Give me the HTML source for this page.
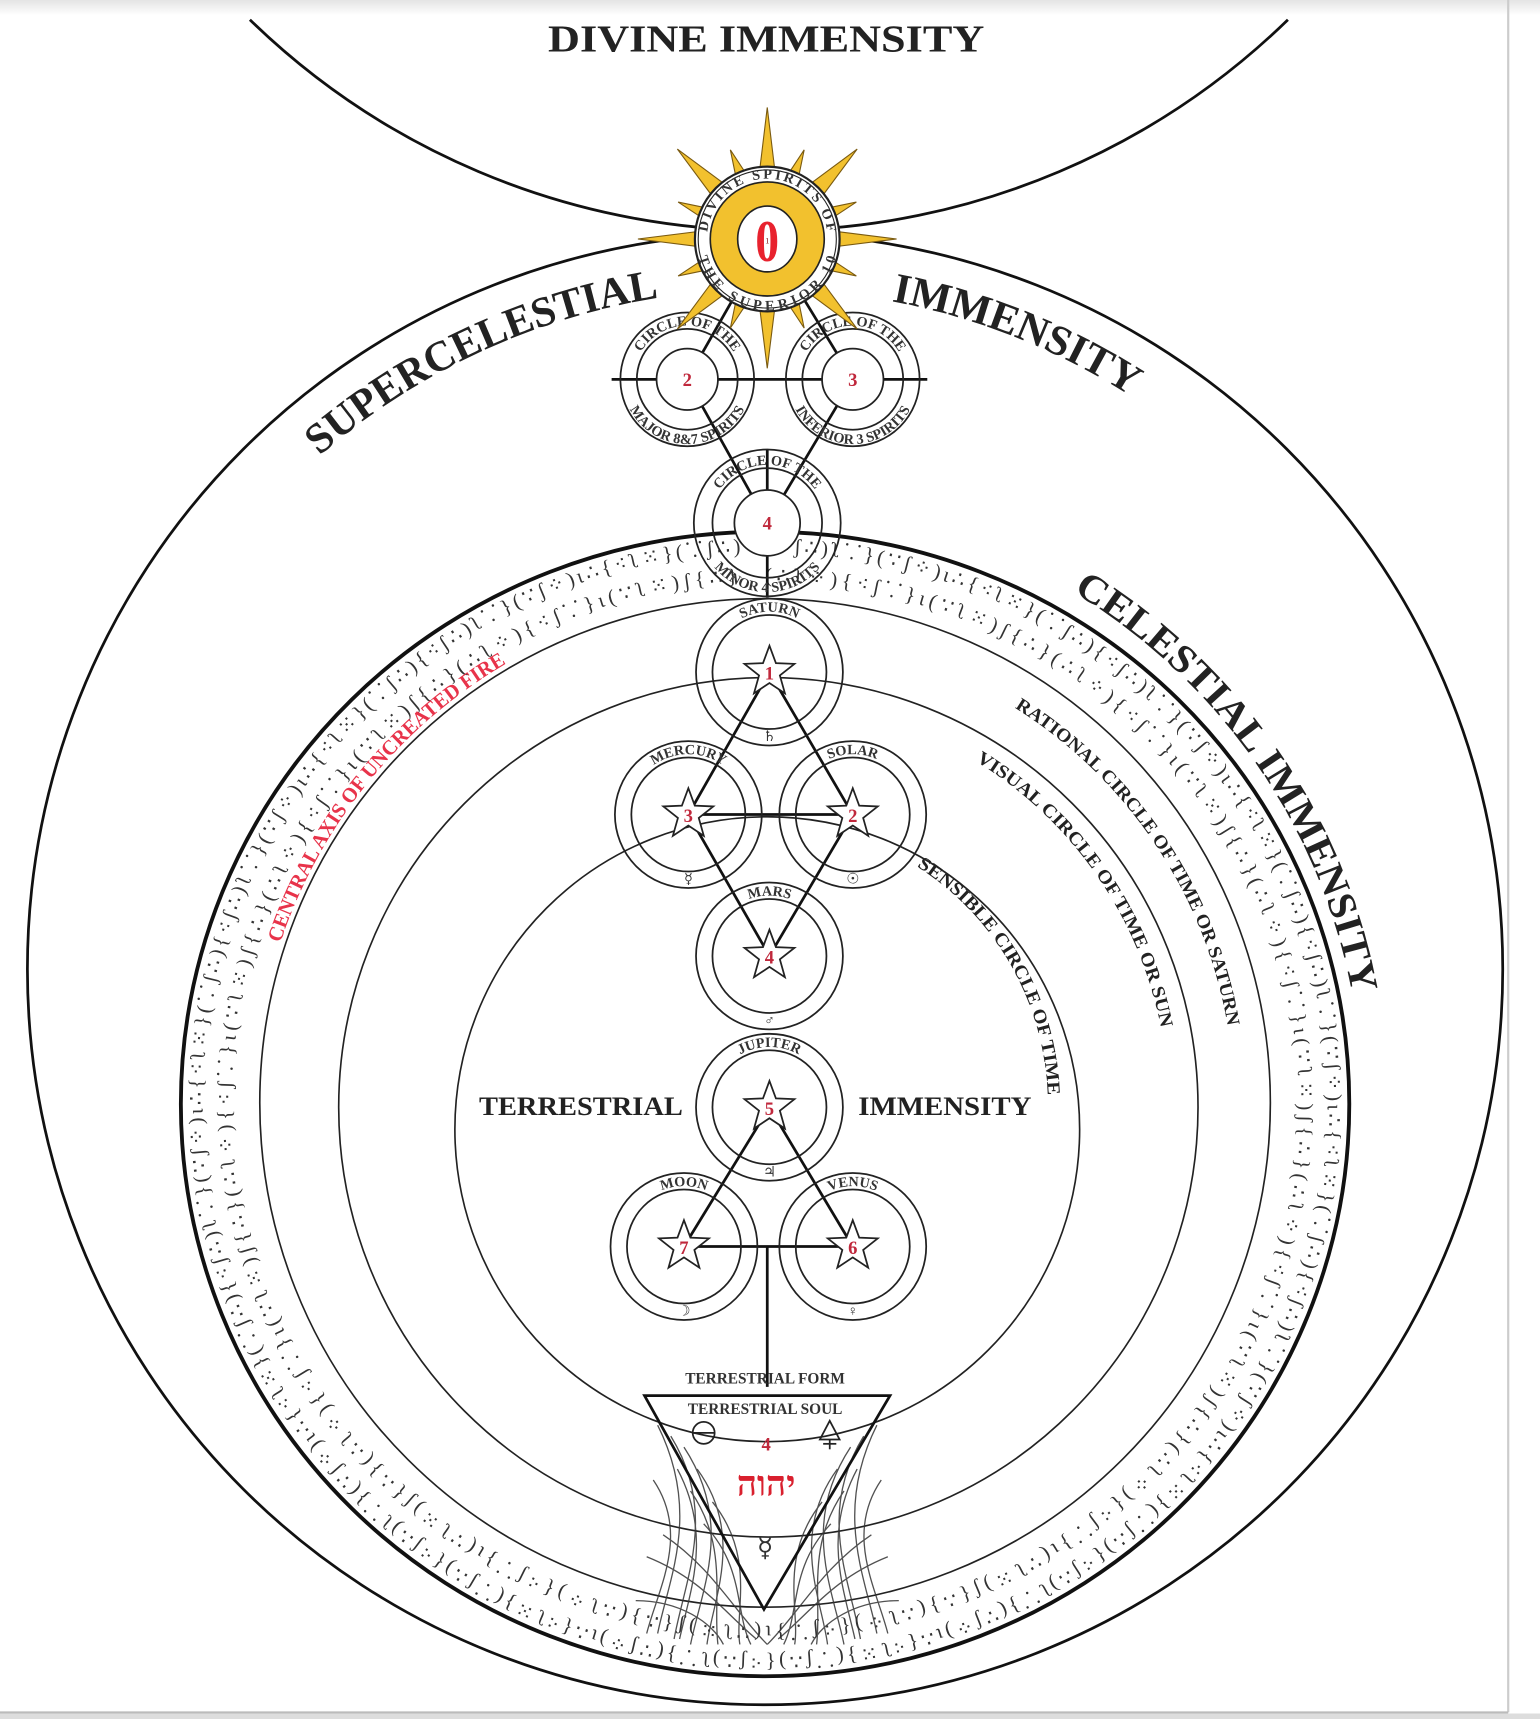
<!DOCTYPE html>
<html><head><meta charset="utf-8"><style>
html,body{margin:0;padding:0;background:#fff;}
svg{display:block;}
text{font-family:"Liberation Serif",serif;}
</style></head><body>
<svg width="1540" height="1719" viewBox="0 0 1405 1568" preserveAspectRatio="none" xmlns="http://www.w3.org/2000/svg">
<defs>
<linearGradient id="tg" x1="0" y1="0" x2="0" y2="1"><stop offset="0" stop-color="#e4e4e4"/><stop offset="1" stop-color="#fff"/></linearGradient>
<polygon id="star" points="0,-24 5.9,-8.1 22.8,-7.4 9.5,3.1 14.1,19.4 0,10 -14.1,19.4 -9.5,3.1 -22.8,-7.4 -5.9,-8.1" fill="#fff" stroke="#222" stroke-width="1.6"/>
<path id="pOuter" d="M698,264 A620,620 0 1 1 698,1504 A620,620 0 1 1 698,264"/>
<path id="pCel" d="M698,462 A545,545 0 1 1 698,1552 A545,545 0 1 1 698,462"/>
<path id="pFire" d="M698,541 A466,466 0 1 1 698,1473 A466,466 0 1 1 698,541"/>
<path id="pRat" d="M698,580 A428,428 0 1 1 698,1436 A428,428 0 1 1 698,580"/>
<path id="pVis" d="M698,640 A368,368 0 1 1 698,1376 A368,368 0 1 1 698,640"/>
<path id="pSen" d="M698,750 A258,258 0 1 1 698,1266 A258,258 0 1 1 698,750"/>
<path id="pB1" d="M698,504 A513,503 0 1 1 698,1510 A513,503 0 1 1 698,504"/>
<path id="pB2" d="M698,531 A487,476 0 1 1 698,1483 A487,476 0 1 1 698,531"/>
<path id="sunT" d="M645,218 A55,55 0 0 1 755,218"/>
<path id="sunB" d="M635,218 A65,65 0 0 0 765,218"/>
<path id="c2T" d="M578,346 A49,49 0 0 1 676,346"/>
<path id="c2B" d="M568,346 A59,59 0 0 0 686,346"/>
<path id="c3T" d="M729,346 A49,49 0 0 1 827,346"/>
<path id="c3B" d="M719,346 A59,59 0 0 0 837,346"/>
<path id="c4T" d="M647,477 A53,53 0 0 1 753,477"/>
<path id="c4B" d="M637,477 A63,63 0 0 0 763,477"/>
<path id="satT" d="M647,613 A55,55 0 0 1 757,613"/>
<path id="merT" d="M573,743 A55,55 0 0 1 683,743"/>
<path id="solT" d="M723,743 A55,55 0 0 1 833,743"/>
<path id="marT" d="M647,872 A55,55 0 0 1 757,872"/>
<path id="jupT" d="M647,1010 A55,55 0 0 1 757,1010"/>
<path id="mooT" d="M569,1137 A55,55 0 0 1 679,1137"/>
<path id="venT" d="M723,1137 A55,55 0 0 1 833,1137"/>
</defs>
<rect x="0" y="0" width="1405" height="1568" fill="#fff"/>
<rect x="0" y="0" width="1405" height="14" fill="url(#tg)"/>
<line x1="1376" y1="0" x2="1376" y2="1562" stroke="#ccc" stroke-width="2"/>
<line x1="0" y1="1562" x2="1376" y2="1562" stroke="#bbb" stroke-width="2"/>
<rect x="0" y="1563" width="1405" height="5" fill="#ddd"/>

<path d="M228,18 A679,679 0 0 0 1175,18" fill="none" stroke="#111" stroke-width="2.5"/>
<text x="699" y="47" text-anchor="middle" font-size="35" font-weight="bold" fill="#222" textLength="398" lengthAdjust="spacingAndGlyphs">DIVINE IMMENSITY</text>

<ellipse cx="698" cy="884" rx="673" ry="671" fill="none" stroke="#111" stroke-width="2.5"/>
<text font-size="39" font-weight="bold" fill="#222"><textPath href="#pOuter" startOffset="3452" textLength="346" lengthAdjust="spacingAndGlyphs">SUPERCELESTIAL</textPath></text>
<text font-size="39" font-weight="bold" fill="#222"><textPath href="#pOuter" startOffset="116" textLength="236" lengthAdjust="spacingAndGlyphs">IMMENSITY</textPath></text>

<ellipse cx="698" cy="1007" rx="533" ry="522" fill="none" stroke="#111" stroke-width="3.5"/>
<ellipse cx="698" cy="1006" rx="461" ry="460" fill="none" stroke="#222" stroke-width="1.5"/>
<text font-size="19" fill="#333"><textPath href="#pB1" textLength="3170" lengthAdjust="spacing">{⁖ʃ∴)ʅ⸪}(∵ʃ⁘)ɩ∴{⁖ʅ⁙}(⸪ʃ∴){⁖ʃ∴)ʅ⸪}(∵ʃ⁘)ɩ∴{⁖ʅ⁙}(⸪ʃ∴){⁖ʃ∴)ʅ⸪}(∵ʃ⁘)ɩ∴{⁖ʅ⁙}(⸪ʃ∴){⁖ʃ∴)ʅ⸪}(∵ʃ⁘)ɩ∴{⁖ʅ⁙}(⸪ʃ∴){⁖ʃ∴)ʅ⸪}(∵ʃ⁘)ɩ∴{⁖ʅ⁙}(⸪ʃ∴){⁖ʃ∴)ʅ⸪}(∵ʃ⁘)ɩ∴{⁖ʅ⁙}(⸪ʃ∴){⁖ʃ∴)ʅ⸪}(∵ʃ⁘)ɩ∴{⁖ʅ⁙}(⸪ʃ∴){⁖ʃ∴)ʅ⸪}(∵ʃ⁘)ɩ∴{⁖ʅ⁙}(⸪ʃ∴){⁖ʃ∴)ʅ⸪}(∵ʃ⁘)ɩ∴{⁖ʅ⁙}(⸪ʃ∴){⁖ʃ∴)ʅ⸪}(∵ʃ⁘)ɩ∴{⁖ʅ⁙}(⸪ʃ∴)</textPath></text>
<text font-size="19" fill="#333"><textPath href="#pB2" textLength="3000" lengthAdjust="spacing">(∴ʅ⁘){⁖ʃ⸪}ɩ(∵ʅ⁙)ʃ{∴}(∴ʅ⁘){⁖ʃ⸪}ɩ(∵ʅ⁙)ʃ{∴}(∴ʅ⁘){⁖ʃ⸪}ɩ(∵ʅ⁙)ʃ{∴}(∴ʅ⁘){⁖ʃ⸪}ɩ(∵ʅ⁙)ʃ{∴}(∴ʅ⁘){⁖ʃ⸪}ɩ(∵ʅ⁙)ʃ{∴}(∴ʅ⁘){⁖ʃ⸪}ɩ(∵ʅ⁙)ʃ{∴}(∴ʅ⁘){⁖ʃ⸪}ɩ(∵ʅ⁙)ʃ{∴}(∴ʅ⁘){⁖ʃ⸪}ɩ(∵ʅ⁙)ʃ{∴}(∴ʅ⁘){⁖ʃ⸪}ɩ(∵ʅ⁙)ʃ{∴}(∴ʅ⁘){⁖ʃ⸪}ɩ(∵ʅ⁙)ʃ{∴}(∴ʅ⁘){⁖ʃ⸪}ɩ(∵ʅ⁙)ʃ{∴}</textPath></text>
<text font-size="36" font-weight="bold" fill="#222"><textPath href="#pCel" startOffset="295" textLength="460" lengthAdjust="spacingAndGlyphs">CELESTIAL IMMENSITY</textPath></text>
<text font-size="19" font-weight="bold" fill="#e8334a"><textPath href="#pFire" startOffset="2345" textLength="335" lengthAdjust="spacingAndGlyphs">CENTRAL AXIS OF UNCREATED FIRE</textPath></text>

<circle cx="701" cy="1010" r="392" fill="none" stroke="#222" stroke-width="1.5"/>
<circle cx="700" cy="1030" r="285" fill="none" stroke="#222" stroke-width="1.5"/>
<text font-size="17" font-weight="bold" fill="#222"><textPath href="#pRat" startOffset="240" textLength="360" lengthAdjust="spacingAndGlyphs">RATIONAL CIRCLE OF TIME OR SATURN</textPath></text>
<text font-size="17" font-weight="bold" fill="#222"><textPath href="#pVis" startOffset="202" textLength="305" lengthAdjust="spacingAndGlyphs">VISUAL CIRCLE OF TIME OR SUN</textPath></text>
<text font-size="17" font-weight="bold" fill="#222"><textPath href="#pSen" startOffset="146" textLength="250" lengthAdjust="spacingAndGlyphs">SENSIBLE CIRCLE OF TIME</textPath></text>

<text x="530" y="1017" text-anchor="middle" font-size="24" font-weight="bold" fill="#222" textLength="186" lengthAdjust="spacingAndGlyphs">TERRESTRIAL</text>
<text x="862" y="1017" text-anchor="middle" font-size="24" font-weight="bold" fill="#222" textLength="158" lengthAdjust="spacingAndGlyphs">IMMENSITY</text>

<g stroke="#111" stroke-width="2.5" fill="none">
<line x1="700" y1="218" x2="627" y2="346"/><line x1="700" y1="218" x2="778" y2="346"/>
<line x1="627" y1="346" x2="700" y2="477"/><line x1="778" y1="346" x2="700" y2="477"/>
<line x1="558" y1="346" x2="846" y2="346"/>
<line x1="700" y1="410" x2="700" y2="545"/>
<line x1="702" y1="613" x2="628" y2="743"/><line x1="702" y1="613" x2="778" y2="743"/>
<line x1="628" y1="743" x2="702" y2="872"/><line x1="778" y1="743" x2="702" y2="872"/>
<line x1="628" y1="743" x2="778" y2="743"/>
<line x1="702" y1="1010" x2="624" y2="1137"/><line x1="702" y1="1010" x2="778" y2="1137"/>
<line x1="624" y1="1137" x2="778" y2="1137"/>
<line x1="700" y1="1137" x2="700" y2="1265"/>
</g>

<g fill="none" stroke="#222" stroke-width="1.6">
<circle cx="627" cy="346" r="61"/><circle cx="627" cy="346" r="46"/>
<circle cx="778" cy="346" r="61"/><circle cx="778" cy="346" r="46"/>
<circle cx="700" cy="477" r="67"/><circle cx="700" cy="477" r="50"/>
</g>
<circle cx="627" cy="346" r="28" fill="#fff" stroke="#222" stroke-width="1.6"/>
<circle cx="778" cy="346" r="28" fill="#fff" stroke="#222" stroke-width="1.6"/>
<circle cx="700" cy="477" r="30" fill="#fff" stroke="#222" stroke-width="1.6"/>
<g font-size="17" font-weight="bold" fill="#c0283c" text-anchor="middle">
<text x="627" y="352">2</text><text x="778" y="352">3</text><text x="700" y="483">4</text>
</g>
<g font-size="13" font-weight="bold" fill="#333">
<text><textPath href="#c2T" startOffset="50%" text-anchor="middle">CIRCLE OF THE</textPath></text>
<text><textPath href="#c2B" startOffset="50%" text-anchor="middle">MAJOR 8&amp;7 SPIRITS</textPath></text>
<text><textPath href="#c3T" startOffset="50%" text-anchor="middle">CIRCLE OF THE</textPath></text>
<text><textPath href="#c3B" startOffset="50%" text-anchor="middle">INFERIOR 3 SPIRITS</textPath></text>
<text><textPath href="#c4T" startOffset="50%" text-anchor="middle">CIRCLE OF THE</textPath></text>
<text><textPath href="#c4B" startOffset="50%" text-anchor="middle">MINOR 4 SPIRITS</textPath></text>
</g>

<g fill="#f2c12e" stroke="#7a5a10" stroke-width="1">
<polygon points="-7,-62 0,-120 7,-62" transform="translate(700,218) rotate(0)"/>
<polygon points="-7,-62 0,-118 7,-62" transform="translate(700,218) rotate(90)"/>
<polygon points="-7,-62 0,-118 7,-62" transform="translate(700,218) rotate(180)"/>
<polygon points="-7,-62 0,-118 7,-62" transform="translate(700,218) rotate(270)"/>
<polygon points="-8,-62 0,-116 8,-62" transform="translate(700,218) rotate(45)"/>
<polygon points="-8,-62 0,-116 8,-62" transform="translate(700,218) rotate(135)"/>
<polygon points="-8,-62 0,-116 8,-62" transform="translate(700,218) rotate(225)"/>
<polygon points="-8,-62 0,-116 8,-62" transform="translate(700,218) rotate(315)"/>
<polygon points="-5,-62 0,-88 5,-62" transform="translate(700,218) rotate(22.5)"/>
<polygon points="-5,-62 0,-88 5,-62" transform="translate(700,218) rotate(67.5)"/>
<polygon points="-5,-62 0,-88 5,-62" transform="translate(700,218) rotate(112.5)"/>
<polygon points="-5,-62 0,-88 5,-62" transform="translate(700,218) rotate(157.5)"/>
<polygon points="-5,-62 0,-88 5,-62" transform="translate(700,218) rotate(202.5)"/>
<polygon points="-5,-62 0,-88 5,-62" transform="translate(700,218) rotate(247.5)"/>
<polygon points="-5,-62 0,-88 5,-62" transform="translate(700,218) rotate(292.5)"/>
<polygon points="-5,-62 0,-88 5,-62" transform="translate(700,218) rotate(337.5)"/>
</g>
<circle cx="700" cy="218" r="66" fill="#fff" stroke="#222" stroke-width="2"/>
<circle cx="700" cy="218" r="63" fill="none" stroke="#222" stroke-width="1"/>
<circle cx="700" cy="218" r="52" fill="#f2c12e" stroke="#222" stroke-width="1.5"/>
<ellipse cx="700" cy="218" rx="27" ry="30" fill="#fff" stroke="#222" stroke-width="1.5"/>
<text x="700" y="238" text-anchor="middle" font-size="54" font-weight="bold" fill="#e8222e" transform="translate(700,226) scale(0.8,1) translate(-700,-226)">0</text>
<text x="700" y="222" text-anchor="middle" font-size="8" fill="#822">1</text>
<g font-size="13" font-weight="bold" fill="#333">
<text><textPath href="#sunT" startOffset="50%" text-anchor="middle" textLength="160" lengthAdjust="spacing">DIVINE SPIRITS OF</textPath></text>
<text><textPath href="#sunB" startOffset="50%" text-anchor="middle" textLength="170" lengthAdjust="spacing">THE SUPERIOR 10</textPath></text>
</g>

<g fill="none" stroke="#222" stroke-width="1.6">
<circle cx="702" cy="613" r="67"/><circle cx="702" cy="613" r="52"/>
<circle cx="628" cy="743" r="67"/><circle cx="628" cy="743" r="52"/>
<circle cx="778" cy="743" r="67"/><circle cx="778" cy="743" r="52"/>
<circle cx="702" cy="872" r="67"/><circle cx="702" cy="872" r="52"/>
<circle cx="702" cy="1010" r="67"/><circle cx="702" cy="1010" r="52"/>
<circle cx="624" cy="1137" r="67"/><circle cx="624" cy="1137" r="52"/>
<circle cx="778" cy="1137" r="67"/><circle cx="778" cy="1137" r="52"/>
</g>
<use href="#star" x="702" y="613"/><use href="#star" x="628" y="743"/><use href="#star" x="778" y="743"/>
<use href="#star" x="702" y="872"/><use href="#star" x="702" y="1010"/><use href="#star" x="624" y="1137"/><use href="#star" x="778" y="1137"/>
<g font-size="17" font-weight="bold" fill="#c0283c" text-anchor="middle">
<text x="702" y="620">1</text><text x="628" y="750">3</text><text x="778" y="750">2</text>
<text x="702" y="879">4</text><text x="702" y="1017">5</text><text x="624" y="1144">7</text><text x="778" y="1144">6</text>
</g>
<g font-size="13" font-weight="bold" fill="#333">
<text><textPath href="#satT" startOffset="50%" text-anchor="middle">SATURN</textPath></text>
<text><textPath href="#merT" startOffset="50%" text-anchor="middle">MERCURY</textPath></text>
<text><textPath href="#solT" startOffset="50%" text-anchor="middle">SOLAR</textPath></text>
<text><textPath href="#marT" startOffset="50%" text-anchor="middle">MARS</textPath></text>
<text><textPath href="#jupT" startOffset="50%" text-anchor="middle">JUPITER</textPath></text>
<text><textPath href="#mooT" startOffset="50%" text-anchor="middle">MOON</textPath></text>
<text><textPath href="#venT" startOffset="50%" text-anchor="middle">VENUS</textPath></text>
</g>
<g font-size="13" fill="#333" text-anchor="middle">
<text x="702" y="676" font-family="DejaVu Sans, sans-serif">♄</text>
<text x="628" y="806" font-family="DejaVu Sans, sans-serif">☿</text>
<text x="778" y="806" font-family="DejaVu Sans, sans-serif">☉</text>
<text x="702" y="935" font-family="DejaVu Sans, sans-serif">♂</text>
<text x="702" y="1073" font-family="DejaVu Sans, sans-serif">♃</text>
<text x="624" y="1200" font-family="DejaVu Sans, sans-serif">☽</text>
<text x="778" y="1200" font-family="DejaVu Sans, sans-serif">♀</text>
</g>

<text x="698" y="1262" text-anchor="middle" font-size="14" font-weight="bold" fill="#333">TERRESTRIAL FORM</text>
<g stroke="#333" stroke-width="1.2" fill="none" opacity="0.85">
<path d="M600,1300 C640,1380 610,1440 600,1490"/><path d="M612,1310 C655,1380 625,1440 615,1495"/>
<path d="M624,1320 C670,1390 640,1450 630,1500"/><path d="M636,1340 C680,1400 650,1460 645,1500"/>
<path d="M590,1420 C640,1440 660,1470 690,1495"/><path d="M605,1400 C650,1430 670,1470 700,1500"/>
<path d="M650,1370 C690,1420 670,1470 675,1500"/><path d="M580,1460 C620,1460 650,1480 660,1500"/>
<path d="M618,1340 C650,1400 630,1450 620,1495"/><path d="M630,1360 C665,1410 650,1460 655,1500"/>
<path d="M596,1350 C630,1400 600,1450 590,1490"/><path d="M642,1390 C680,1430 670,1470 685,1500"/>
<path d="M800,1300 C760,1380 790,1440 800,1490"/><path d="M788,1310 C745,1380 775,1440 785,1495"/>
<path d="M776,1320 C730,1390 760,1450 770,1500"/><path d="M764,1340 C720,1400 750,1460 755,1500"/>
<path d="M810,1420 C760,1440 740,1470 710,1495"/><path d="M795,1400 C750,1430 730,1470 700,1500"/>
<path d="M750,1370 C710,1420 730,1470 725,1500"/><path d="M820,1460 C780,1460 750,1480 740,1500"/>
<path d="M782,1340 C750,1400 770,1450 780,1495"/><path d="M770,1360 C735,1410 750,1460 745,1500"/>
<path d="M804,1350 C770,1400 800,1450 810,1490"/><path d="M758,1390 C720,1430 730,1470 715,1500"/>
</g>
<polygon points="588,1273 812,1273 697,1468" fill="none" stroke="#111" stroke-width="2.5"/>
<text x="698" y="1290" text-anchor="middle" font-size="14" font-weight="bold" fill="#333">TERRESTRIAL SOUL</text>
<circle cx="642" cy="1307" r="10" fill="none" stroke="#222" stroke-width="1.6"/>
<line x1="632" y1="1307" x2="652" y2="1307" stroke="#222" stroke-width="1.6"/>
<polygon points="757,1296 766,1313 748,1313" fill="none" stroke="#222" stroke-width="1.6"/>
<line x1="757" y1="1313" x2="757" y2="1322" stroke="#222" stroke-width="1.6"/>
<line x1="751" y1="1317" x2="763" y2="1317" stroke="#222" stroke-width="1.6"/>
<text x="699" y="1323" text-anchor="middle" font-size="17" font-weight="bold" fill="#c0283c">4</text>
<text x="699" y="1364" text-anchor="middle" font-size="32" font-weight="bold" fill="#d9202e" font-family="'Liberation Serif','DejaVu Serif',serif">יהוה</text>
<text x="698" y="1420" text-anchor="middle" font-size="24" fill="#333" font-family="DejaVu Sans, sans-serif">☿</text>
</svg>
</body></html>
